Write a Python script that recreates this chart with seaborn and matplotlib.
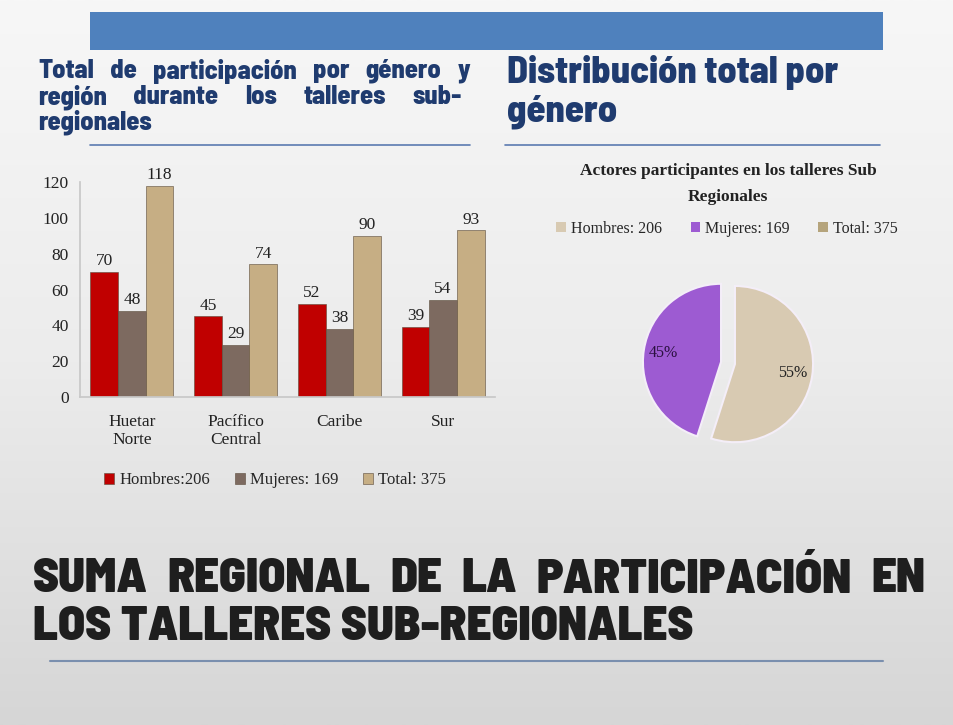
import numpy as np
import pandas as pd
import matplotlib
matplotlib.use("Agg")
import matplotlib.pyplot as plt
from matplotlib.patches import Patch, Rectangle
import seaborn as sns

# ---- data ----
regions = ["Huetar\nNorte", "Pacífico\nCentral", "Caribe", "Sur"]
series = ["Hombres:206", "Mujeres: 169", "Total: 375"]
hombres = [70, 45, 52, 39]
mujeres = [48, 29, 38, 54]
total = [118, 74, 90, 93]
yticks = [0, 20, 40, 60, 80, 100, 120]

pie_labels = ["Hombres: 206", "Mujeres: 169", "Total: 375"]
pie_values = [206, 169]

bar_colors = ["#c00000", "#7d6a60", "#c6ae84"]
pie_colors = ["#d8cab2", "#9d5bd2", "#b5a47c"]

sns.set_theme(style="white")
plt.rcParams["font.family"] = ["Liberation Serif", "DejaVu Serif"]

W, H = 954, 725
fig = plt.figure(figsize=(W / 100, H / 100), dpi=100)
renderer = fig.canvas.get_renderer()

# background gradient
bg = fig.add_axes([0, 0, 1, 1], zorder=-10)
grad = np.linspace(0, 1, 256).reshape(-1, 1)
bg.imshow(grad, aspect="auto", cmap=matplotlib.colors.LinearSegmentedColormap.from_list(
    "g", ["#f7f7f7", "#ececec", "#d6d6d6"]), extent=[0, 1, 0, 1], origin="upper")
bg.set_xlim(0, 1); bg.set_ylim(0, 1); bg.axis("off")


def px(x, y):
    return x / W, 1 - y / H


def text_w(t):
    return t.get_window_extent(renderer).width


def fit_text(x0, x1, y, s, size, **kw):
    t = fig.text(*px(x0, y), s, fontsize=size, va="center", ha="left", **kw)
    w = text_w(t)
    t.set_fontsize(size * (x1 - x0) / w)
    return t


def justify(x0, x1, y, s, size, **kw):
    words = s.split()
    ts = [fig.text(*px(x0, y), w, fontsize=size, va="center", ha="left", **kw) for w in words]
    widths = [text_w(t) for t in ts]
    gap = ((x1 - x0) - sum(widths)) / max(len(words) - 1, 1)
    x = x0
    for t, w in zip(ts, widths):
        t.set_position(px(x, y))
        x += w + gap


# top blue bar
bg.add_patch(Rectangle(px(90, 50), (883 - 90) / W, 38 / H, color="#4f81bd", lw=0))

head_col = "#1f3b6f"
heavy = ["Barlow Semi Condensed", "DejaVu Sans"]

justify(38, 470, 71, "Total de participación por género y", 19, family=heavy,
        fontweight="heavy", color=head_col)
justify(38, 462, 97, "región durante los talleres sub-", 19, family=heavy,
        fontweight="heavy", color=head_col)
fig.text(*px(38, 122), "regionales", fontsize=19, family=heavy, fontweight="heavy",
         color=head_col, va="center", ha="left")
bg.plot([90 / W, 470 / W], [1 - 145 / H] * 2, color="#5b7bb0", lw=1.2)

r1 = fit_text(507, 838, 72, "Distribución total por", 28, family=heavy,
              fontweight="heavy", color=head_col)
fig.text(*px(507, 112), "género", fontsize=r1.get_fontsize(), family=heavy,
         fontweight="heavy", color=head_col, va="center", ha="left")
bg.plot([505 / W, 880 / W], [1 - 145 / H] * 2, color="#5b7bb0", lw=1.2)

l2 = fit_text(33, 695, 627, "LOS TALLERES SUB-REGIONALES", 40,
              family=heavy, fontweight="black", color="#1e1e1e")
justify(33, 925, 579, "SUMA REGIONAL DE LA PARTICIPACIÓN EN", l2.get_fontsize(),
        family=heavy, fontweight="black", color="#1e1e1e")
bg.plot([50 / W, 883 / W], [1 - 661 / H] * 2, color="#7a8fae", lw=1.5)

# ---- bar chart ----
df = pd.DataFrame({
    "region": regions * 3,
    "serie": [series[0]] * 4 + [series[1]] * 4 + [series[2]] * 4,
    "valor": hombres + mujeres + total,
})
ax = fig.add_axes([80 / W, 1 - 397 / H, 415 / W, 215 / H])
ax.set_facecolor("none")
sns.barplot(data=df, x="region", y="valor", hue="serie", hue_order=series,
            palette=bar_colors, ax=ax, width=0.8, saturation=1,
            edgecolor="#5a4a3a", linewidth=0.4)
for c in ax.containers:
    ax.bar_label(c, fontsize=12.5, padding=2, color="#222222")
ax.set_ylim(0, 120)
ax.set_yticks(yticks)
ax.tick_params(axis="y", labelsize=12.5, colors="#222222", length=0, pad=8)
ax.tick_params(axis="x", labelsize=12.5, colors="#222222", length=0, pad=12)
ax.set_xlabel(""); ax.set_ylabel("")
for s in ["top", "right"]:
    ax.spines[s].set_visible(False)
ax.spines["left"].set_color("#c8c8c8")
ax.spines["bottom"].set_color("#c8c8c8")
sns.move_legend(ax, "upper center", bbox_to_anchor=(0.47, -0.28), ncol=3,
                frameon=False, title=None, fontsize=12, handlelength=0.6,
                handleheight=0.6, handletextpad=0.3, columnspacing=1.5)

# ---- pie chart ----
pax = fig.add_axes([628 / W, 1 - 463 / H, 200 / W, 200 / H])
pax.set_facecolor("none")
wedges, texts, autotexts = pax.pie(
    pie_values, colors=pie_colors[:2], startangle=90, counterclock=False,
    explode=[0.09, 0.09], autopct="%1.0f%%", pctdistance=0.75,
    textprops={"fontsize": 11.5, "color": "#222222"},
    wedgeprops={"linewidth": 1.5, "edgecolor": "#f4eef8"})
autotexts[1].set_color("#2a1040")
pax.set_xlim(-1.28, 1.28); pax.set_ylim(-1.28, 1.28)
pax.set_aspect("equal"); pax.axis("off")

fig.text(*px(728, 171), "Actores participantes en los talleres Sub", fontsize=12.5,
         fontweight="bold", ha="center", va="center", color="#222222")
fig.text(*px(728, 197), "Regionales", fontsize=12.5,
         fontweight="bold", ha="center", va="center", color="#222222")
handles = [Patch(facecolor=c, edgecolor="none") for c in pie_colors]
fig.legend(handles, pie_labels, loc="center", bbox_to_anchor=px(727, 229), ncol=3,
           frameon=False, fontsize=11.5, handlelength=0.6, handleheight=0.6,
           handletextpad=0.3, columnspacing=1.8)

fig.savefig("out.png", dpi=100)
